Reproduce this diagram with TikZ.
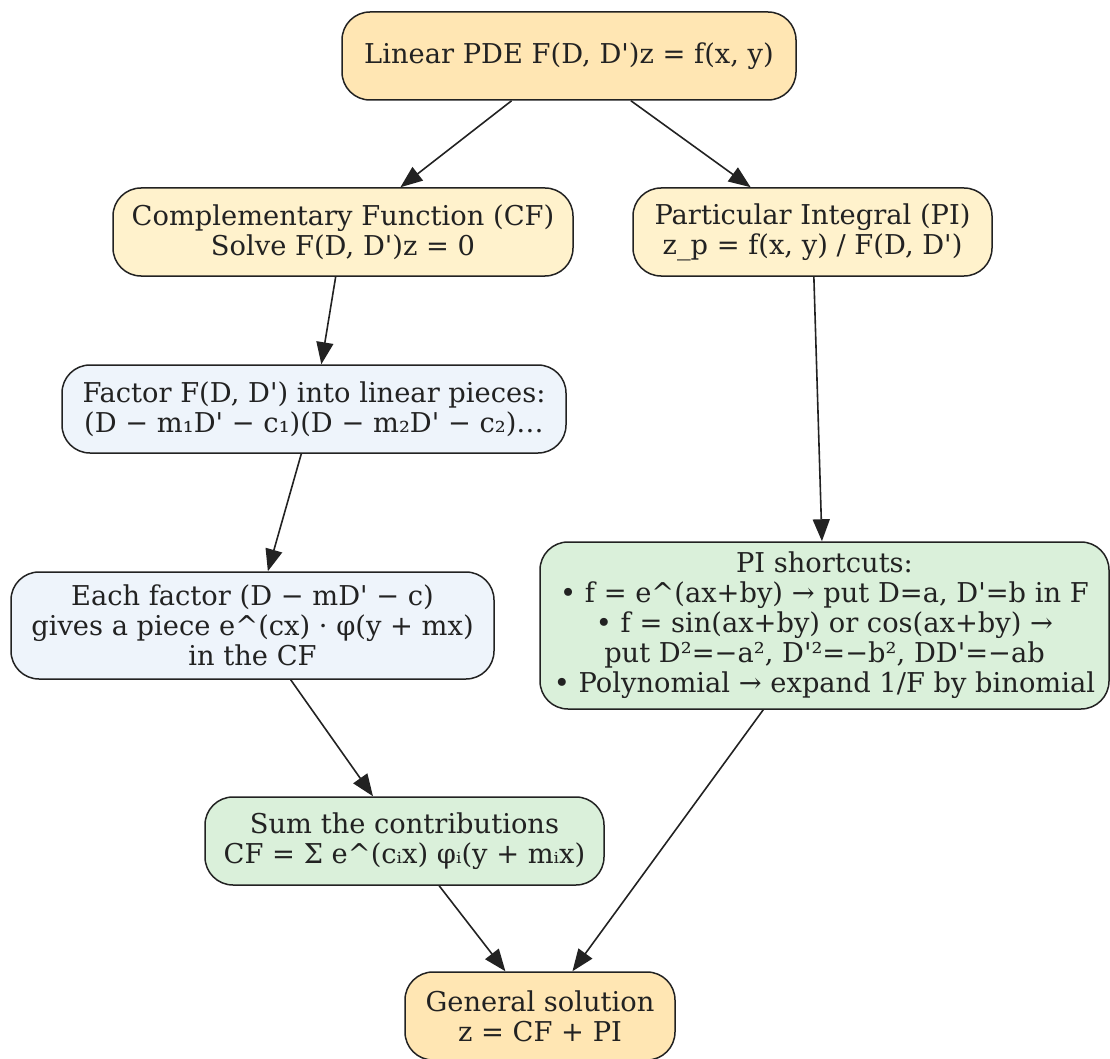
\documentclass[tikz,border=0pt]{standalone}
\usepackage{fontspec}
\setmainfont{DejaVu Serif}[Ligatures=TeXOff]
\usetikzlibrary{arrows.meta}
\definecolor{cOrange}{HTML}{FFE6B3}
\definecolor{cYellow}{HTML}{FFF2CC}
\definecolor{cBlue}{HTML}{EEF4FB}
\definecolor{cGreen}{HTML}{DAF0DA}
\definecolor{cInk}{HTML}{222222}
\begin{document}
\begin{tikzpicture}[x=1pt,y=-1pt,
  box/.style={draw=cInk, line width=1.5pt, rounded corners=28pt, align=center,
    font=\fontsize{27.3}{30}\selectfont, text=cInk, inner sep=0pt},
  arr/.style={draw=cInk, line width=1.6pt, -{Triangle[length=22pt,width=17pt]}}]
\useasboundingbox (0,0) rectangle (1110,1059);
\node[box, fill=cOrange, minimum width=454pt, minimum height=88pt] (pde) at (569,56)
  {Linear PDE F(D, D')z = f(x, y)};
\node[box, fill=cYellow, minimum width=460pt, minimum height=88pt] (cf) at (343,232)
  {Complementary Function (CF)\\Solve F(D, D')z = 0};
\node[box, fill=cYellow, minimum width=359pt, minimum height=88pt] (pi) at (812.5,232)
  {Particular Integral (PI)\\z\_p = f(x, y) / F(D, D')};
\node[box, fill=cBlue, minimum width=504pt, minimum height=88pt] (fac) at (314,409)
  {Factor F(D, D') into linear pieces:\\(D − m₁D' − c₁)(D − m₂D' − c₂)…};
\node[box, fill=cBlue, minimum width=483pt, minimum height=107pt] (each) at (252.5,625.5)
  {Each factor (D − mD' − c)\\gives a piece e\textasciicircum(cx) · φ(y + mx)\\in the CF};
\node[box, fill=cGreen, minimum width=569pt, minimum height=167pt] (short) at (824.5,625.5)
  {PI shortcuts:\\• f = e\textasciicircum(ax+by) → put D=a, D'=b in F\\• f = sin(ax+by) or cos(ax+by) →\\put D²=−a², D'²=−b², DD'=−ab\\• Polynomial → expand 1/F by binomial};
\node[box, fill=cGreen, minimum width=399pt, minimum height=88pt] (sum) at (404.5,841)
  {Sum the contributions\\CF = Σ e\textasciicircum(cᵢx) φᵢ(y + mᵢx)};
\node[box, fill=cOrange, minimum width=270pt, minimum height=88pt] (gen) at (540,1016)
  {General solution\\z = CF + PI};
\draw[arr] (pde) -- (cf);
\draw[arr] (pde) -- (pi);
\draw[arr] (cf) -- (fac);
\draw[arr] (fac) -- (each);
\draw[arr] (pi) -- (short);
\draw[arr] (each) -- (sum);
\draw[arr] (sum) -- (gen);
\draw[arr] (short) -- (gen);
\end{tikzpicture}
\end{document}
